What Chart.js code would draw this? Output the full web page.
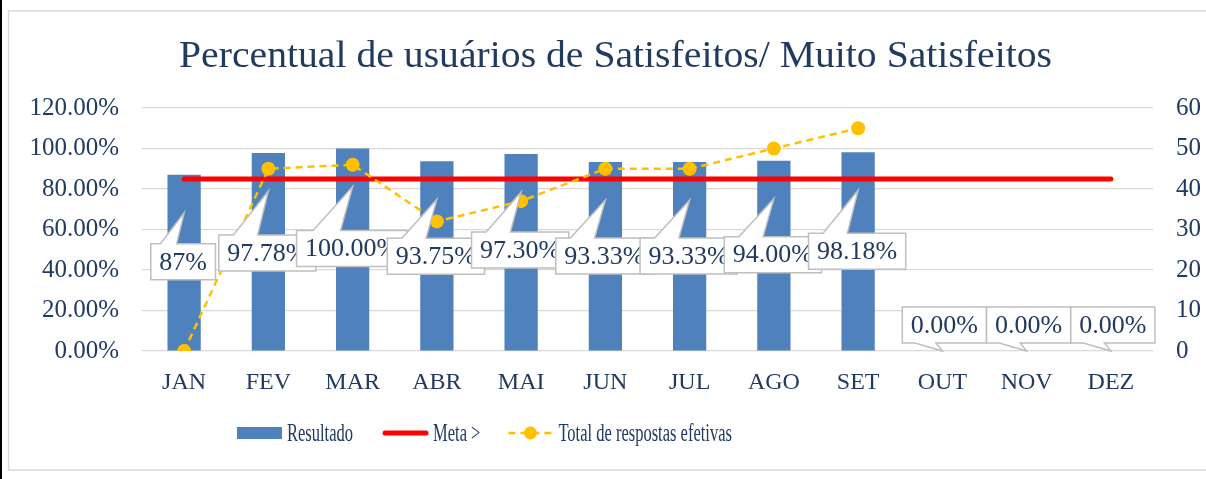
<!DOCTYPE html>
<html>
<head>
<meta charset="utf-8">
<script src="https://cdn.jsdelivr.net/npm/chart.js@4"></script>
<style>
html,body{margin:0;padding:0;background:#fff;}
#wrap{position:absolute;left:0;top:0;width:1206px;height:479px;}
</style>
</head>
<body>
<div id="wrap"><canvas id="c" width="1206" height="479"></canvas></div>
<script>
// ---- data ----
const chartTitle = 'Percentual de usuários de Satisfeitos/ Muito Satisfeitos';
const months = ['JAN','FEV','MAR','ABR','MAI','JUN','JUL','AGO','SET','OUT','NOV','DEZ'];
const resultado = [87, 97.78, 100, 93.75, 97.30, 93.33, 93.33, 94.00, 98.18, 0, 0, 0];
const resultadoLabels = ['87%','97.78%','100.00%','93.75%','97.30%','93.33%','93.33%','94.00%','98.18%','0.00%','0.00%','0.00%'];
const meta = [85, 85, 85, 85, 85, 85, 85, 85, 85, 85, 85, 85];
const totalRespostas = [0, 45, 46, 32, 37, 45, 45, 50, 55, null, null, null];
const leftTicks = [0, 20, 40, 60, 80, 100, 120];
const rightTicks = [0, 10, 20, 30, 40, 50, 60];
const seriesNames = ['Resultado', 'Meta >', 'Total de respostas efetivas'];

// ---- styles ----
const FONT = '"Liberation Serif", "DejaVu Serif", serif';
const TXT = '#203a60';
const BLUE = '#4f81bd', RED = '#ff0000', GOLD = '#ffc000', GRID = '#d9d9d9';
// callout layout: vertical gap between pointer tip and box top (px)
const calloutGap = [31, 44, 44, 39, 40, 38, 38, 38, 43, 0, 0, 0];

const framePlugin = {
  id: 'frame',
  beforeDraw(chart) {
    const ctx = chart.ctx;
    ctx.save();
    ctx.fillStyle = '#fff';
    ctx.fillRect(0, 0, chart.width, chart.height);
    ctx.strokeStyle = GRID;
    ctx.lineWidth = 1.5;
    ctx.strokeRect(8.5, 11, 1210, 459);
    ctx.fillStyle = '#000';
    ctx.fillRect(0, 0, 2, chart.height);
    // title
    ctx.fillStyle = TXT;
    ctx.font = '37px ' + FONT;
    ctx.textBaseline = 'alphabetic';
    const w = ctx.measureText(chartTitle).width;
    const target = 873;
    ctx.translate(615.5, 67);
    ctx.scale(target / w, 1);
    ctx.textAlign = 'center';
    ctx.fillText(chartTitle, 0, 0);
    ctx.restore();
  }
};

const calloutPlugin = {
  id: 'callouts',
  afterDatasetsDraw(chart) {
    const ctx = chart.ctx;
    const meta0 = chart.getDatasetMeta(0);
    ctx.save();
    ctx.font = '26px ' + FONT;
    ctx.textAlign = 'center';
    ctx.textBaseline = 'middle';
    meta0.data.forEach((el, i) => {
      const txt = resultadoLabels[i];
      const tw = ctx.measureText(txt).width;
      const w = tw + 17, h = 36;
      let L, T, tip;
      ctx.beginPath();
      if (resultado[i] > 0) {
        tip = {x: el.x, y: el.y + 38};
        const xc = el.x - 1;
        L = xc - w / 2; T = tip.y + calloutGap[i];
        const b1 = xc - 0.35 * w, b2 = xc - 0.1 * w;
        ctx.moveTo(L, T); ctx.lineTo(b1, T); ctx.lineTo(tip.x, tip.y); ctx.lineTo(b2, T);
        ctx.lineTo(L + w, T); ctx.lineTo(L + w, T + h); ctx.lineTo(L, T + h); ctx.closePath();
      } else {
        tip = {x: el.x, y: el.y};
        const xc = el.x + 2;
        L = xc - w / 2; T = el.y - 8 - h;
        const B = T + h;
        const b1 = xc - 0.35 * w, b2 = xc - 0.1 * w;
        ctx.moveTo(L, T); ctx.lineTo(L + w, T); ctx.lineTo(L + w, B); ctx.lineTo(b2, B);
        ctx.lineTo(tip.x, tip.y); ctx.lineTo(b1, B); ctx.lineTo(L, B); ctx.closePath();
      }
      ctx.fillStyle = '#fff';
      ctx.fill();
      ctx.strokeStyle = '#bfbfbf';
      ctx.lineWidth = 1.5;
      ctx.lineJoin = 'miter';
      ctx.stroke();
      ctx.fillStyle = TXT;
      ctx.fillText(txt, L + w / 2, T + h / 2 + 1);
    });
    ctx.restore();
  }
};

const legendPlugin = {
  id: 'customLegend',
  afterDraw(chart) {
    const ctx = chart.ctx;
    ctx.save();
    const cy = 433;
    const sx = 0.635;
    ctx.font = '26px ' + FONT;
    ctx.textBaseline = 'middle';
    ctx.fillStyle = TXT;
    const drawText = (t, x) => {
      ctx.save(); ctx.translate(x, cy + 1); ctx.scale(sx, 1);
      ctx.fillStyle = TXT; ctx.textAlign = 'left'; ctx.fillText(t, 0, 0); ctx.restore();
      return x + ctx.measureText(t).width * sx;
    };
    let x = 237;
    ctx.fillStyle = BLUE;
    ctx.fillRect(x, cy - 6, 45, 12);
    x = drawText(seriesNames[0], x + 50);
    x += 30;
    ctx.strokeStyle = RED; ctx.lineWidth = 5; ctx.lineCap = 'round';
    ctx.beginPath(); ctx.moveTo(x + 2, cy); ctx.lineTo(x + 43, cy); ctx.stroke();
    x = drawText(seriesNames[1], x + 50);
    x += 28;
    ctx.strokeStyle = GOLD; ctx.lineWidth = 2.5; ctx.lineCap = 'butt';
    ctx.setLineDash([7, 5]);
    ctx.beginPath(); ctx.moveTo(x, cy); ctx.lineTo(x + 43, cy); ctx.stroke();
    ctx.setLineDash([]);
    ctx.fillStyle = GOLD;
    ctx.beginPath(); ctx.arc(x + 22, cy, 6.5, 0, Math.PI * 2); ctx.fill();
    drawText(seriesNames[2], x + 50);
    ctx.restore();
  }
};

new Chart(document.getElementById('c'), {
  data: {
    labels: months,
    datasets: [
      {
        type: 'bar', label: seriesNames[0], data: resultado, yAxisID: 'y',
        backgroundColor: BLUE, borderWidth: 0,
        categoryPercentage: 1, barPercentage: 0.395, order: 3
      },
      {
        type: 'line', label: seriesNames[1], data: meta, yAxisID: 'y',
        borderColor: RED, borderWidth: 5, pointRadius: 0, borderCapStyle: 'round',
        fill: false, order: 2
      },
      {
        type: 'line', label: seriesNames[2], data: totalRespostas, yAxisID: 'y1',
        borderColor: GOLD, borderWidth: 2.5, borderDash: [7, 5],
        pointRadius: 7, pointBackgroundColor: GOLD, pointBorderWidth: 0,
        fill: false, spanGaps: false, order: 1
      }
    ]
  },
  options: {
    responsive: false,
    animation: false,
    events: [],
    layout: { padding: { top: 108, left: 0, right: 0, bottom: 0 } },
    plugins: { legend: { display: false }, title: { display: false }, tooltip: { enabled: false } },
    scales: {
      x: {
        offset: true,
        grid: { display: false, drawTicks: false },
        border: { display: false },
        ticks: { color: TXT, font: { family: FONT, size: 24 }, padding: 17, maxRotation: 0 },
        afterFit: s => { s.height = 128; }
      },
      y: {
        position: 'left', min: 0, max: 120,
        afterBuildTicks: s => { s.ticks = leftTicks.map(v => ({ value: v })); },
        grid: { color: GRID, lineWidth: 1.2, drawTicks: false },
        border: { display: false },
        ticks: { color: TXT, font: { family: FONT, size: 25 }, padding: 23,
                 callback: v => v.toFixed(2) + '%' },
        afterFit: s => { s.width = 142; }
      },
      y1: {
        position: 'right', min: 0, max: 60,
        afterBuildTicks: s => { s.ticks = rightTicks.map(v => ({ value: v })); },
        grid: { display: false, drawTicks: false },
        border: { display: false },
        ticks: { color: TXT, font: { family: FONT, size: 25 }, padding: 23 },
        afterFit: s => { s.width = 53; }
      }
    }
  },
  plugins: [framePlugin, calloutPlugin, legendPlugin]
});
</script>
</body>
</html>
